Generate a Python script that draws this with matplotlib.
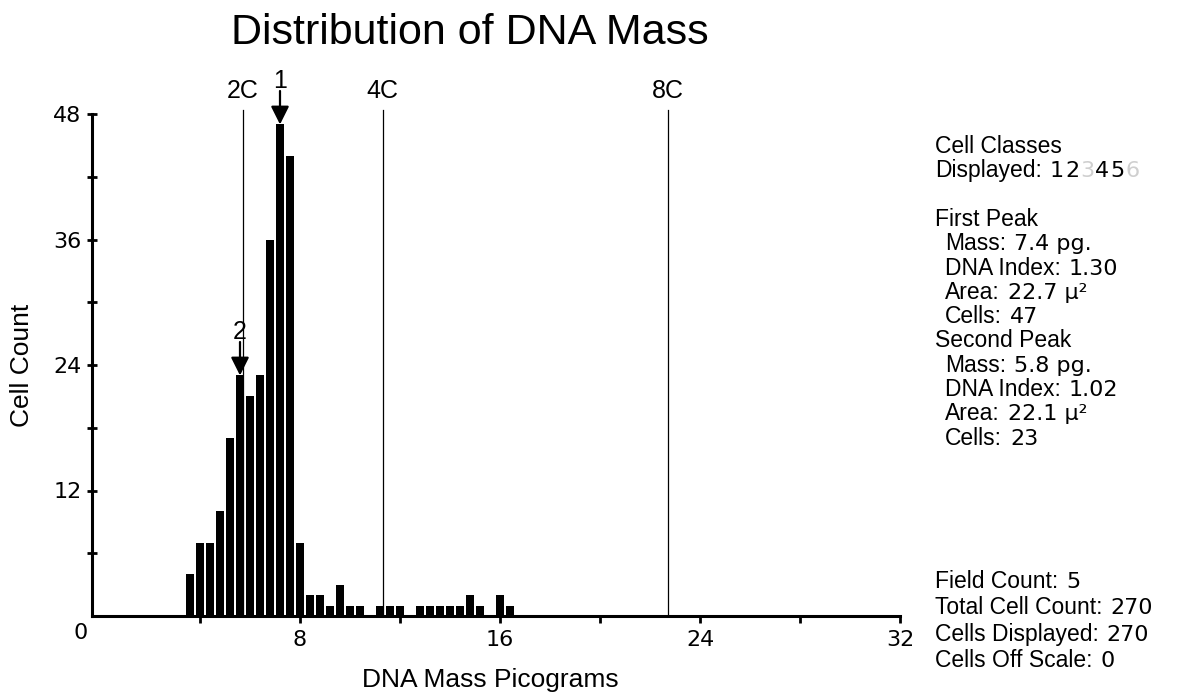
import matplotlib
matplotlib.use("Agg")
import matplotlib.pyplot as plt
from matplotlib import font_manager

# ---------------- data ----------------
bin_mass = [3.6, 4.0, 4.4, 4.8, 5.2, 5.6, 6.0, 6.4, 6.8, 7.2, 7.6, 8.0,
            8.4, 8.8, 9.2, 9.6, 10.0, 10.4, 11.2, 11.6, 12.0,
            12.8, 13.2, 13.6, 14.0, 14.4, 14.8, 15.2, 16.0, 16.4]
cell_counts = [4, 7, 7, 10, 17, 23, 21, 23, 36, 47, 44, 7,
               2, 2, 1, 3, 1, 1, 1, 1, 1,
               1, 1, 1, 1, 1, 2, 1, 2, 1]
ploidy_labels = ["2C", "4C", "8C"]
ploidy_mass = [5.7, 11.3, 22.7]
peak_labels = ["1", "2"]
peak_mass = [7.2, 5.6]
peak_cells = [47, 23]
x_ticks = [8, 16, 24, 32]
x_minor = [4, 12, 20, 28]
y_ticks = [12, 24, 36, 48]
y_minor = [6, 18, 30, 42]

# right info panel: (label, value, indent)
info_top = [("Cell Classes", "", 0),
            ("Displayed:", "", 0),
            None,
            ("First Peak", "", 0),
            ("Mass:", "7.4 pg.", 1),
            ("DNA Index:", "1.30", 1),
            ("Area:", "22.7 µ²", 1),
            ("Cells:", "47", 1),
            ("Second Peak", "", 0),
            ("Mass:", "5.8 pg.", 1),
            ("DNA Index:", "1.02", 1),
            ("Area:", "22.1 µ²", 1),
            ("Cells:", "23", 1)]
info_bottom = [("Field Count:", "5"), ("Total Cell Count:", "270"),
               ("Cells Displayed:", "270"), ("Cells Off Scale:", "0")]
classes = ["1", "2", "3", "4", "5", "6"]
classes_shown = [True, True, False, True, True, False]

names = {f.name for f in font_manager.fontManager.ttflist}
SANS = "Liberation Sans"
NARROW = "Liberation Sans Narrow" if "Liberation Sans Narrow" in names else "DejaVu Sans Condensed"
if NARROW not in names:
    NARROW = SANS
WIDE = "DejaVu Sans"
plt.rcParams["font.family"] = [SANS, "DejaVu Sans"]

W, H = 1202, 697
fig = plt.figure(figsize=(W / 100, H / 100), dpi=100)
ax = fig.add_axes([92 / W, 81 / H, 808 / W, 502 / H])

ax.bar(bin_mass, cell_counts, width=0.33, color="black", align="center", zorder=2)

ax.set_xlim(-0.32, 32)
ax.set_ylim(0, 48)

for s in ["top", "right"]:
    ax.spines[s].set_visible(False)
for s in ["left", "bottom"]:
    ax.spines[s].set_linewidth(2.2)
    ax.spines[s].set_color("black")

ax.set_xticks(x_ticks)
ax.set_xticklabels([str(v) for v in x_ticks], family=WIDE)
ax.set_xticks(x_minor, minor=True)
ax.set_yticks(y_ticks)
ax.set_yticklabels([str(v) for v in y_ticks], family=WIDE)
ax.set_yticks(y_minor, minor=True)
ax.tick_params(axis="x", which="both", direction="out", length=5, width=2,
               labelsize=16, pad=5)
ax.tick_params(axis="y", which="both", direction="inout", length=7, width=2,
               labelsize=16, pad=4)

fig.text(81 / W, 1 - 633 / H, "0", ha="center", va="center", fontsize=16, family=WIDE)

# ploidy reference lines
for lab, m in zip(ploidy_labels, ploidy_mass):
    ax.plot([m, m], [0, 48.4], color="black", lw=0.9, zorder=3, clip_on=False)
    ax.text(m, 50.2, lab, ha="center", va="center", fontsize=18, family=NARROW,
            clip_on=False)

# peak arrows
for lab, m, c in zip(peak_labels, peak_mass, peak_cells):
    ax.annotate("", xy=(m, c), xytext=(m, c + 3.2), annotation_clip=False,
                arrowprops=dict(arrowstyle="-|>,head_width=0.55,head_length=1.1",
                                color="black", lw=1.6, shrinkA=0, shrinkB=0))
    ax.text(m, c + 4.2, lab, ha="center", va="center", fontsize=18, family=NARROW,
            clip_on=False)

fig.text(490 / W, 1 - 680 / H, "DNA Mass Picograms", ha="center", va="center",
         fontsize=19)
fig.text(22 / W, 1 - 365 / H, "Cell Count", ha="center", va="center",
         rotation=90, fontsize=19)

fig.text(470 / W, 1 - 33 / H, "Distribution of DNA Mass", ha="center", va="center",
         fontsize=31)

# ---------------- right info panel ----------------
LBL = 16.5
VAL = 16
x0 = 935
indent = 10
renderer = fig.canvas.get_renderer()


def right_edge(t):
    return t.get_window_extent(renderer=renderer).x1


def put_line(ypix, label, value, ind):
    t = fig.text((x0 + ind * indent) / W, 1 - ypix / H, label, ha="left",
                 va="baseline", fontsize=LBL)
    if value:
        xv = right_edge(t) + 8
        fig.text(xv / W, 1 - ypix / H, value, ha="left", va="baseline",
                 fontsize=VAL, family=WIDE)
    return t


y = 153
disp = None
disp_y = None
for row in info_top:
    if row is not None:
        lab, val, ind = row
        t = put_line(y, lab, val, ind)
        if lab == "Displayed:":
            disp, disp_y = t, y
    y += 24.3

xc = right_edge(disp) + 8
for cl, shown in zip(classes, classes_shown):
    tc = fig.text(xc / W, 1 - disp_y / H, cl, ha="left", va="baseline",
                  fontsize=VAL, family=WIDE,
                  color="black" if shown else "#cfcfcf")
    xc = right_edge(tc) + 1

y = 588
for lab, val in info_bottom:
    put_line(y, lab, val, 0)
    y += 26.3

fig.savefig("out.png", dpi=100)
